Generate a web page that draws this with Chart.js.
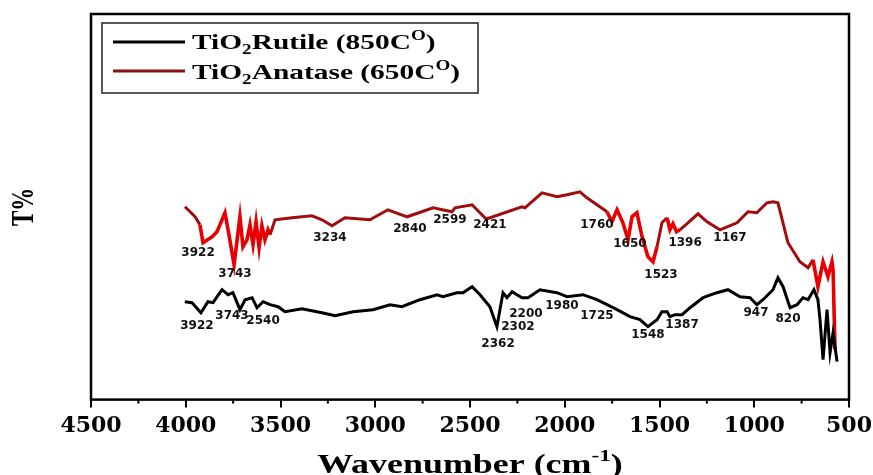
<!DOCTYPE html>
<html>
<head>
<meta charset="utf-8">
<script src="https://cdn.jsdelivr.net/npm/chart.js@4.4.1/dist/chart.umd.min.js"></script>
<style>
  body { margin: 0; background: #fff; }
  canvas { display: block; }
</style>
</head>
<body>
<canvas id="myChart_FTIR" width="873" height="475"></canvas>
<script>
// FTIR spectra, wavenumber (cm-1) vs transmittance (no y ticks in the figure)
const rutileWn = [4005, 3967, 3920, 3883, 3856, 3809, 3777, 3751, 3714, 3687, 3650, 3624, 3592, 3555, 3513, 3476, 3387, 3281, 3212, 3117, 3012, 2922, 2859, 2764, 2674, 2643, 2569, 2537, 2489, 2447, 2395, 2358, 2342, 2326, 2305, 2278, 2226, 2194, 2131, 2041, 1988, 1904, 1830, 1777, 1724, 1656, 1603, 1561, 1513, 1487, 1460, 1445, 1418, 1381, 1339, 1270, 1197, 1139, 1075, 1022, 986, 954, 901, 875, 848, 811, 774, 743, 716, 685, 664, 653, 637, 616, 600, 584, 563];
const rutileT = [98, 97, 87, 98, 97, 110, 105, 107, 90, 100, 102, 92, 98, 95, 93, 88, 91, 87, 84, 88, 90, 95, 93, 100, 105, 103, 107, 107, 113, 105, 93, 73, 90, 107, 102, 108, 102, 102, 110, 107, 103, 105, 100, 95, 90, 83, 80, 73, 80, 88, 88, 83, 85, 85, 92, 102, 107, 110, 103, 102, 95, 100, 110, 122, 113, 92, 95, 102, 100, 110, 100, 80, 40, 90, 47, 67, 38];

const anataseWn = [4004, 3988, 3951, 3925, 3909, 3861, 3835, 3793, 3772, 3745, 3714, 3698, 3677, 3661, 3645, 3629, 3613, 3598, 3582, 3566, 3555, 3529, 3439, 3334, 3281, 3228, 3160, 3028, 2933, 2832, 2695, 2595, 2579, 2489, 2416, 2394, 2226, 2210, 2120, 2041, 1988, 1920, 1883, 1830, 1777, 1751, 1724, 1693, 1666, 1645, 1619, 1592, 1561, 1534, 1513, 1487, 1460, 1445, 1429, 1410, 1392, 1350, 1297, 1249, 1181, 1091, 1033, 986, 933, 901, 875, 822, 759, 716, 690, 664, 637, 611, 590, 584, 574];
const anataseT = [193, 190, 183, 175, 157, 163, 168, 187, 165, 135, 183, 153, 160, 175, 155, 178, 152, 174, 160, 170, 165, 180, 182, 184, 180, 174, 182, 180, 190, 183, 192, 188, 192, 195, 181, 182, 193, 192, 207, 203, 205, 208, 202, 195, 188, 178, 190, 177, 160, 183, 187, 163, 143, 138, 153, 177, 182, 170, 176, 168, 170, 177, 186, 178, 170, 177, 188, 187, 197, 198, 197, 157, 138, 132, 140, 113, 138, 123, 138, 130, 50];

// peak annotations
const rutilePeakText = ["3922", "3743", "2540", "2362", "2302", "2200", "1980", "1725", "1548", "1387", "947", "820"];
const rutilePeakWn = [3941, 3756, 3592, 2352, 2247, 2205, 2015, 1830, 1561, 1381, 991, 822];
const rutilePeakT = [74, 84, 79, 56, 73, 86, 94, 84, 65, 75, 87, 81];

const anatasePeakText = ["3922", "3743", "3234", "2840", "2599", "2421", "1760", "1650", "1523", "1396", "1167"];
const anatasePeakWn = [3935, 3740, 3239, 2817, 2606, 2395, 1830, 1656, 1492, 1365, 1128];
const anatasePeakT = [147, 126, 162, 171, 180, 175, 175, 156, 125, 157, 162];

const minorTicks = [4250, 3750, 3250, 2750, 2250, 1750, 1250, 750];

// noisy parts of the anatase trace are drawn brighter
const brightRanges = [[3930, 3540], [1790, 1500], [1470, 1385], [690, 570]];
const DARK_RED = "#a00d0d";
const BRIGHT_RED = "#e80000";

function isBright(x) {
  return brightRanges.some((r) => x <= r[0] && x >= r[1]);
}

function toPoints(xs, ys) {
  return xs.map((x, i) => ({ x: x, y: ys[i] }));
}

// text with subscript/superscript pieces, stretched a bit like the original figure
function drawRich(ctx, parts, x, y, size, stretch) {
  ctx.save();
  ctx.translate(x, y);
  ctx.scale(stretch, 1);
  let cx = 0;
  parts.forEach((p) => {
    let fs = size, dy = 0;
    if (p.sub) { fs = size * 0.65; dy = size * 0.25; }
    if (p.sup) { fs = size * 0.65; dy = -size * 0.45; }
    ctx.font = "bold " + fs + "px 'Liberation Serif', 'Times New Roman', serif";
    ctx.fillText(p.t, cx, dy);
    cx += ctx.measureText(p.t).width;
  });
  ctx.restore();
  return cx * stretch;
}

const decorPlugin = {
  id: "decor",
  afterDraw(chart) {
    const ctx = chart.ctx;
    const a = chart.chartArea;
    const xs = chart.scales.x;
    const ys = chart.scales.y;
    ctx.save();

    // frame
    ctx.strokeStyle = "#000";
    ctx.lineWidth = 2.5;
    ctx.strokeRect(a.left, a.top, a.right - a.left, a.bottom - a.top);

    // minor ticks
    ctx.lineWidth = 2;
    minorTicks.forEach((v) => {
      const px = xs.getPixelForValue(v);
      ctx.beginPath();
      ctx.moveTo(px, a.bottom);
      ctx.lineTo(px, a.bottom + 4);
      ctx.stroke();
    });

    // peak labels
    ctx.fillStyle = "#111";
    ctx.font = "bold 12px 'DejaVu Sans', Verdana, sans-serif";
    ctx.textAlign = "center";
    ctx.textBaseline = "middle";
    rutilePeakText.forEach((t, i) => {
      ctx.fillText(t, xs.getPixelForValue(rutilePeakWn[i]), ys.getPixelForValue(rutilePeakT[i]));
    });
    anatasePeakText.forEach((t, i) => {
      ctx.fillText(t, xs.getPixelForValue(anatasePeakWn[i]), ys.getPixelForValue(anatasePeakT[i]));
    });

    // legend
    ctx.strokeStyle = "#222";
    ctx.lineWidth = 1.5;
    ctx.strokeRect(102, 23, 376, 70);
    ctx.lineWidth = 3;
    ctx.strokeStyle = "#000";
    ctx.beginPath(); ctx.moveTo(113, 42); ctx.lineTo(185, 42); ctx.stroke();
    ctx.strokeStyle = "#8a1111";
    ctx.beginPath(); ctx.moveTo(113, 71); ctx.lineTo(185, 71); ctx.stroke();
    ctx.fillStyle = "#000";
    ctx.textAlign = "left";
    ctx.textBaseline = "alphabetic";
    drawRich(ctx, [{ t: "TiO" }, { t: "2", sub: true }, { t: "Rutile (850C" }, { t: "O", sup: true }, { t: ")" }], 192, 49, 21, 1.4);
    drawRich(ctx, [{ t: "TiO" }, { t: "2", sub: true }, { t: "Anatase (650C" }, { t: "O", sup: true }, { t: ")" }], 192, 79, 21, 1.4);

    // x axis title, centred under the plot
    const titleParts = [{ t: "Wavenumber (cm" }, { t: "-1", sup: true }, { t: ")" }];
    ctx.save();
    ctx.fillStyle = "rgba(0,0,0,0)";
    const total = drawRich(ctx, titleParts, -1000, -1000, 27, 1.33);
    ctx.restore();
    drawRich(ctx, titleParts, (a.left + a.right) / 2 - total / 2, 473, 27, 1.33);

    // y axis title
    ctx.save();
    ctx.translate(25, (a.top + a.bottom) / 2);
    ctx.rotate(-Math.PI / 2);
    ctx.scale(1, 1.35);
    ctx.font = "bold 23px 'Liberation Serif', 'Times New Roman', serif";
    ctx.textAlign = "center";
    ctx.textBaseline = "middle";
    ctx.fillText("T%", 0, 0);
    ctx.restore();

    ctx.restore();
  },
};

function initializeChartFTIR(ctx) {
  return new Chart(ctx, {
    type: "line",
    data: {
      datasets: [
        {
          label: "TiO2Rutile (850CO)",
          data: toPoints(rutileWn, rutileT),
          borderColor: "#000",
          borderWidth: 3,
          pointRadius: 0,
          tension: 0,
        },
        {
          label: "TiO2Anatase (650CO)",
          data: toPoints(anataseWn, anataseT),
          borderColor: DARK_RED,
          borderWidth: 3,
          pointRadius: 0,
          tension: 0,
          segment: {
            borderColor: (c) => (isBright(c.p0.parsed.x) && isBright(c.p1.parsed.x) ? BRIGHT_RED : DARK_RED),
            borderWidth: (c) => (isBright(c.p0.parsed.x) && isBright(c.p1.parsed.x) ? 3.6 : 3),
          },
        },
      ],
    },
    options: {
      responsive: false,
      animation: false,
      devicePixelRatio: 1,
      layout: { padding: { left: 91, right: 24, top: 14, bottom: 31 } },
      plugins: {
        legend: { display: false },
        tooltip: { enabled: false },
      },
      scales: {
        x: {
          type: "linear",
          reverse: true,
          min: 500,
          max: 4500,
          border: { display: false },
          grid: {
            display: true,
            drawOnChartArea: false,
            drawTicks: true,
            tickLength: 8,
            color: "#000",
            lineWidth: 2,
          },
          ticks: {
            stepSize: 500,
            autoSkip: false,
            maxRotation: 0,
            padding: 5,
            color: "#000",
            font: { family: "'DejaVu Serif', serif", weight: "bold", size: 22 },
            callback: (v) => String(v),
          },
          // the end labels may hang past the frame, like in the figure
          afterFit: (s) => {
            s.paddingLeft = 0;
            s.paddingRight = 0;
          },
        },
        y: {
          display: false,
          min: 0,
          max: 386,
        },
      },
    },
    plugins: [decorPlugin],
  });
}

window.addEventListener("load", function () {
  var ctx = document.getElementById("myChart_FTIR").getContext("2d");
  initializeChartFTIR(ctx);
});
</script>
</body>
</html>
